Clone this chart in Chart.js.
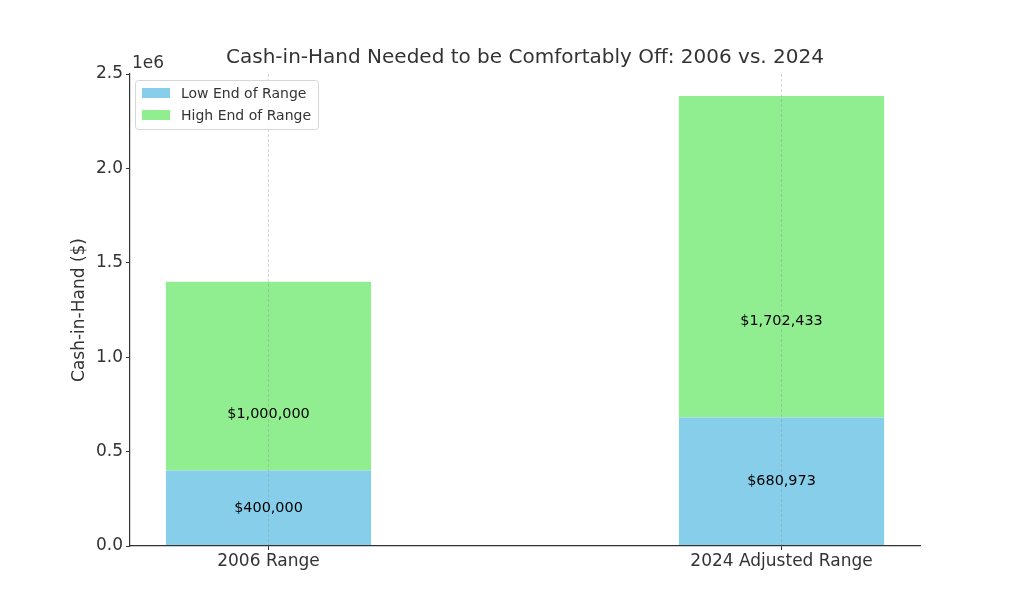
<!DOCTYPE html>
<html>
<head>
<meta charset="utf-8">
<script src="https://cdn.jsdelivr.net/npm/chart.js@4"></script>
<style>
  html, body { margin: 0; padding: 0; background: #fff; }
  #wrap { width: 1024px; height: 614px; }
</style>
</head>
<body>
<div id="wrap"><canvas id="myChart" width="1024" height="614"></canvas></div>
<script>
// chart data
const categories = ["2006 Range", "2024 Adjusted Range"];
const lowValues = [400000, 680973];
const highValues = [1000000, 1702433];
const seriesNames = ["Low End of Range", "High End of Range"];
const yTicks = [0, 500000, 1000000, 1500000, 2000000, 2500000];

const lowColor = "#87CEEB";
const highColor = "#90EE90";
const textColor = "#333333";
const font = "'DejaVu Sans', sans-serif";

function money(v) {
  return "$" + v.toLocaleString("en-US");
}

// title, axis title, offset text, legend and bar labels
const extras = {
  id: "extras",
  afterDraw(chart) {
    const ctx = chart.ctx;
    const area = chart.chartArea;
    const x = chart.scales.x;
    const y = chart.scales.y;
    ctx.save();

    ctx.fillStyle = textColor;
    ctx.textAlign = "center";
    ctx.textBaseline = "middle";
    ctx.font = "20px " + font;
    ctx.fillText("Cash-in-Hand Needed to be Comfortably Off: 2006 vs. 2024", (area.left + area.right) / 2, 58);

    ctx.font = "17px " + font;
    ctx.textAlign = "left";
    ctx.fillText("1e6", area.left + 2, 64);

    ctx.save();
    ctx.translate(80, (area.top + area.bottom) / 2);
    ctx.rotate(-Math.PI / 2);
    ctx.textAlign = "center";
    ctx.fillText("Cash-in-Hand ($)", 0, 0);
    ctx.restore();

    // segment labels
    ctx.fillStyle = "#000";
    ctx.font = "14.4px " + font;
    ctx.textAlign = "center";
    categories.forEach(function (c, i) {
      const px = x.getPixelForValue(i);
      ctx.fillText(money(lowValues[i]), px, y.getPixelForValue(lowValues[i] / 2));
      ctx.fillText(money(highValues[i]), px, y.getPixelForValue((lowValues[i] + highValues[i]) / 2));
    });

    // legend
    const lx = area.left + 5, ly = area.top + 6;
    ctx.fillStyle = "rgba(255,255,255,0.8)";
    ctx.strokeStyle = "#d6d6d6";
    ctx.lineWidth = 1;
    ctx.beginPath();
    ctx.roundRect(lx + 0.5, ly + 0.5, 183, 49, 3);
    ctx.fill();
    ctx.stroke();
    const colors = [lowColor, highColor];
    ctx.font = "14px " + font;
    ctx.textAlign = "left";
    seriesNames.forEach(function (name, i) {
      const ry = ly + 13 + i * 22;
      ctx.fillStyle = colors[i];
      ctx.fillRect(lx + 7, ry - 5, 28, 10);
      ctx.fillStyle = textColor;
      ctx.fillText(name, lx + 46, ry + 1);
    });
    ctx.restore();
  }
};

const myChart = document.getElementById("myChart");
new Chart(myChart, {
  type: "bar",
  data: {
    datasets: [{
      label: seriesNames[0],
      data: lowValues.map((v, i) => ({ x: i, y: v })),
      backgroundColor: lowColor,
      barPercentage: 0.4,
      categoryPercentage: 1
    }, {
      label: seriesNames[1],
      data: highValues.map((v, i) => ({ x: i, y: v })),
      backgroundColor: highColor,
      barPercentage: 0.4,
      categoryPercentage: 1
    }]
  },
  plugins: [extras],
  options: {
    responsive: false,
    animation: false,
    layout: { padding: { top: 74, right: 104, left: 0, bottom: 0 } },
    plugins: {
      legend: { display: false },
      title: { display: false },
      tooltip: { enabled: false }
    },
    scales: {
      x: {
        type: "linear",
        stacked: true,
        offset: false,
        min: -0.27,
        max: 1.27,
        afterBuildTicks: function (scale) {
          scale.ticks = categories.map((c, i) => ({ value: i }));
        },
        afterFit: function (scale) { scale.height = 68; },
        ticks: {
          callback: function (v) { return categories[v]; },
          color: textColor,
          font: { family: font, size: 17 },
          padding: 1,
          maxRotation: 0
        },
        grid: {
          z: 1,
          offset: false,
          color: "rgba(140,140,140,0.35)",
          drawOnChartArea: true,
          tickLength: 4,
          tickColor: textColor,
          tickBorderDash: []
        },
        border: { z: 2, color: textColor, width: 1.2, dash: [3, 2] }
      },
      y: {
        stacked: true,
        min: 0,
        max: 2500000,
        afterBuildTicks: function (scale) {
          scale.ticks = yTicks.map(v => ({ value: v }));
        },
        afterFit: function (scale) { scale.width = 130; },
        ticks: {
          callback: function (v) { return (v / 1e6).toFixed(1); },
          color: textColor,
          font: { family: font, size: 17 },
          padding: 3
        },
        grid: {
          drawOnChartArea: false,
          tickLength: 4,
          tickColor: textColor
        },
        border: { color: textColor, width: 1.2 }
      }
    }
  }
});
</script>
</body>
</html>
